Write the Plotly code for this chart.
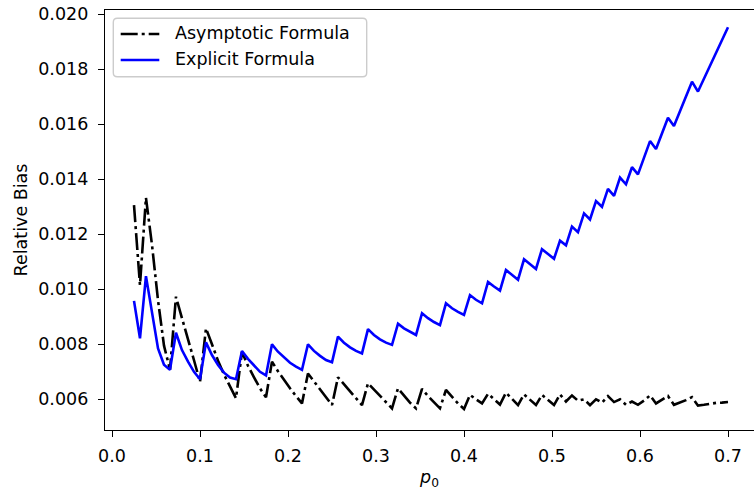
import plotly.graph_objects as go

# p0 grid (100 evenly spaced values from 0.025 to 0.70)
p0 = [
    0.0250, 0.0318, 0.0386, 0.0455, 0.0523, 0.0591, 0.0659, 0.0727, 0.0795, 0.0864,
    0.0932, 0.1000, 0.1068, 0.1136, 0.1205, 0.1273, 0.1341, 0.1409, 0.1477, 0.1545,
    0.1614, 0.1682, 0.1750, 0.1818, 0.1886, 0.1955, 0.2023, 0.2091, 0.2159, 0.2227,
    0.2295, 0.2364, 0.2432, 0.2500, 0.2568, 0.2636, 0.2705, 0.2773, 0.2841, 0.2909,
    0.2977, 0.3045, 0.3114, 0.3182, 0.3250, 0.3318, 0.3386, 0.3455, 0.3523, 0.3591,
    0.3659, 0.3727, 0.3795, 0.3864, 0.3932, 0.4000, 0.4068, 0.4136, 0.4205, 0.4273,
    0.4341, 0.4409, 0.4477, 0.4545, 0.4614, 0.4682, 0.4750, 0.4818, 0.4886, 0.4955,
    0.5023, 0.5091, 0.5159, 0.5227, 0.5295, 0.5364, 0.5432, 0.5500, 0.5568, 0.5636,
    0.5705, 0.5773, 0.5841, 0.5909, 0.5977, 0.6045, 0.6114, 0.6182, 0.6250, 0.6318,
    0.6386, 0.6455, 0.6523, 0.6591, 0.6659, 0.6727, 0.6795, 0.6864, 0.6932, 0.7000,
]

asymptotic = [
    0.01306, 0.01015, 0.01333, 0.01160, 0.00960, 0.00795, 0.00708, 0.00973, 0.00895, 0.00822,
    0.00742, 0.00663, 0.00858, 0.00800, 0.00740, 0.00690, 0.00645, 0.00604, 0.00772, 0.00722,
    0.00680, 0.00640, 0.00607, 0.00737, 0.00702, 0.00670, 0.00640, 0.00612, 0.00585, 0.00694,
    0.00665, 0.00636, 0.00608, 0.00579, 0.00680, 0.00655, 0.00630, 0.00604, 0.00579, 0.00658,
    0.00635, 0.00612, 0.00590, 0.00567, 0.00640, 0.00612, 0.00588, 0.00567, 0.00638, 0.00612,
    0.00588, 0.00567, 0.00634, 0.00608, 0.00585, 0.00565, 0.00616, 0.00600, 0.00585, 0.00620,
    0.00600, 0.00581, 0.00624, 0.00600, 0.00579, 0.00618, 0.00598, 0.00579, 0.00616, 0.00596,
    0.00579, 0.00618, 0.00592, 0.00614, 0.00595, 0.00600, 0.00579, 0.00600, 0.00588, 0.00612,
    0.00590, 0.00600, 0.00580, 0.00592, 0.00580, 0.00595, 0.00614, 0.00585, 0.00598, 0.00612,
    0.00580, 0.00588, 0.00597, 0.00608, 0.00577, 0.00580, 0.00584, 0.00587, 0.00588, 0.00590,
]

explicit = [
    0.00958, 0.00822, 0.01048, 0.00910, 0.00785, 0.00726, 0.00707, 0.00842, 0.00779, 0.00737,
    0.00700, 0.00673, 0.00807, 0.00761, 0.00725, 0.00697, 0.00679, 0.00673, 0.00776, 0.00747,
    0.00722, 0.00700, 0.00687, 0.00800, 0.00773, 0.00751, 0.00733, 0.00719, 0.00707, 0.00800,
    0.00776, 0.00758, 0.00743, 0.00735, 0.00828, 0.00806, 0.00789, 0.00776, 0.00767, 0.00855,
    0.00834, 0.00818, 0.00806, 0.00798, 0.00875, 0.00858, 0.00845, 0.00834, 0.00913, 0.00895,
    0.00881, 0.00870, 0.00949, 0.00931, 0.00918, 0.00907, 0.00979, 0.00962, 0.00949, 0.01027,
    0.01010, 0.00995, 0.01070, 0.01052, 0.01035, 0.01109, 0.01090, 0.01074, 0.01146, 0.01128,
    0.01111, 0.01177, 0.01160, 0.01228, 0.01208, 0.01276, 0.01254, 0.01321, 0.01300, 0.01365,
    0.01340, 0.01406, 0.01382, 0.01444, 0.01418, 0.01478, 0.01539, 0.01510, 0.01567, 0.01624,
    0.01594, 0.01648, 0.01701, 0.01755, 0.01719, 0.01766, 0.01813, 0.01860, 0.01906, 0.01953,
]

x_ticks = [0.0, 0.1, 0.2, 0.3, 0.4, 0.5, 0.6, 0.7]
y_ticks = [0.006, 0.008, 0.010, 0.012, 0.014, 0.016, 0.018, 0.020]

series_names = ["Asymptotic Formula", "Explicit Formula"]

FONT = "DejaVu Sans"
FS = 17.5
DASHDOT = "17px,4px,3px,4px"
LW = 2.6

fig = go.Figure()
fig.add_trace(go.Scatter(
    x=p0, y=asymptotic, mode="lines", name=series_names[0],
    line=dict(color="black", width=LW, dash=DASHDOT), showlegend=False,
))
fig.add_trace(go.Scatter(
    x=p0, y=explicit, mode="lines", name=series_names[1],
    line=dict(color="#0000ff", width=LW), showlegend=False,
))

# plot area in pixels: left 105, right 754, top 10, bottom 430
L, R, T, B = 105, 754, 10, 430
W, H = R - L, B - T


def px_x(px):
    return (px - L) / W


def px_y(py):
    return (B - py) / H


axis_common = dict(
    showline=True, linecolor="black", linewidth=1.4,
    ticks="outside", ticklen=6, tickwidth=1.4, tickcolor="black",
    showgrid=False, zeroline=False, automargin=False,
    tickfont=dict(family=FONT, size=FS, color="black"),
)

fig.update_layout(
    width=754, height=490,
    margin=dict(l=L, r=754 - R, t=T, b=490 - B, pad=0),
    template="none",
    paper_bgcolor="white", plot_bgcolor="white",
    font=dict(family=FONT, size=FS, color="black"),
    xaxis=dict(
        range=[-0.00795, 0.72955], tickvals=x_ticks, tickformat=".1f",
        mirror=True, ticklabelstandoff=4,
        title=dict(text="<i>p</i><sub>0</sub>", font=dict(family=FONT, size=FS), standoff=10),
        **axis_common,
    ),
    yaxis=dict(
        range=[0.004884, 0.020156], tickvals=y_ticks, tickformat=".3f",
        mirror=False, ticklabelstandoff=6,
        title=dict(text="Relative Bias", font=dict(family=FONT, size=FS), standoff=6),
        **axis_common,
    ),
)

# legend box with rounded corners
x0, x1 = px_x(113.3), px_x(366.7)
y0, y1 = px_y(76.7), px_y(18.3)
rx, ry = 4 / W, 4 / H
path = (
    f"M {x0 + rx},{y1} L {x1 - rx},{y1} Q {x1},{y1} {x1},{y1 - ry} "
    f"L {x1},{y0 + ry} Q {x1},{y0} {x1 - rx},{y0} "
    f"L {x0 + rx},{y0} Q {x0},{y0} {x0},{y0 + ry} "
    f"L {x0},{y1 - ry} Q {x0},{y1} {x0 + rx},{y1} Z"
)
fig.add_shape(type="path", path=path, xref="paper", yref="paper",
              line=dict(color="#cccccc", width=1.4), fillcolor="rgba(255,255,255,0.8)")

legend_rows = [
    (series_names[0], dict(color="black", width=LW, dash=DASHDOT), 34, 33.2),
    (series_names[1], dict(color="#0000ff", width=LW), 60, 59.2),
]
for name, ln, ly, ty in legend_rows:
    fig.add_shape(type="line", xref="paper", yref="paper",
                  x0=px_x(120.7), x1=px_x(159.3), y0=px_y(ly), y1=px_y(ly), line=ln)
    fig.add_annotation(x=px_x(172.7), y=px_y(ty), xref="paper", yref="paper",
                       text=name, showarrow=False, xanchor="left", yanchor="middle",
                       font=dict(family=FONT, size=FS, color="black"))

fig.write_html("out.html")
